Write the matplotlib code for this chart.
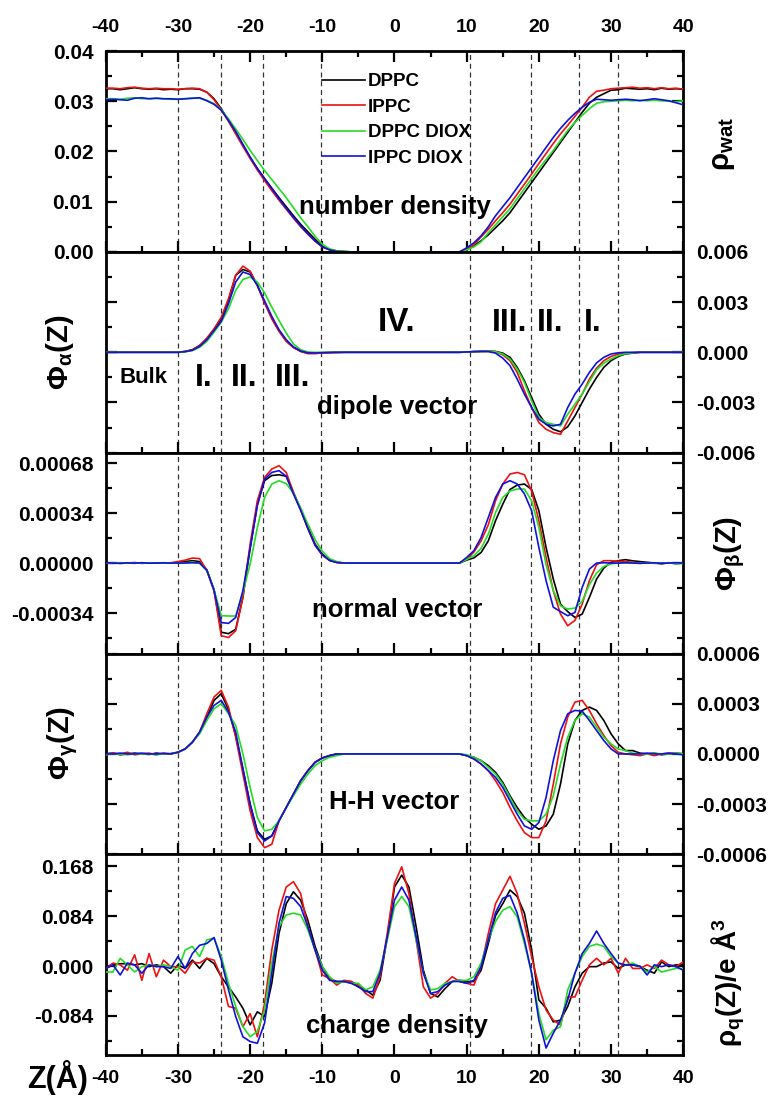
import numpy as np
import matplotlib
matplotlib.use('Agg')
import matplotlib.pyplot as plt
from matplotlib.ticker import MultipleLocator, FixedLocator, FormatStrFormatter

plt.rcParams['font.family'] = ['Liberation Sans', 'DejaVu Sans']
plt.rcParams['font.weight'] = 'bold'
plt.rcParams['axes.unicode_minus'] = False
plt.rcParams['mathtext.fontset'] = 'custom'
plt.rcParams['mathtext.rm'] = 'Liberation Sans:bold'
plt.rcParams['mathtext.it'] = 'Liberation Sans:bold'
plt.rcParams['mathtext.bf'] = 'Liberation Sans:bold'

# membrane normal coordinate, 1 A steps
z = np.arange(-40, 41)

labels = ['DPPC', 'IPPC', 'DPPC DIOX', 'IPPC DIOX']
colors = ['black', '#ee1111', '#22dd22', '#1111dd']
zone_edges = [-30, -24, -18.2, -10.2, 10.4, 18.9, 25.6, 30.9]

# water number density
rho_dppc = [0.0325, 0.0325, 0.0323, 0.0325, 0.0327, 0.0325, 0.0324, 0.0325, 0.0323, 0.0324, 0.0323, 0.0325, 0.0325, 0.0324,
            0.0318, 0.0305, 0.0285, 0.0262, 0.0238, 0.0213, 0.0188, 0.0166, 0.0146, 0.0127, 0.0108, 0.0090, 0.0072, 0.0055,
            0.0040, 0.0025, 0.0012, 0.0005, 0.0002, 0.0001, 0.0,
            0, 0, 0, 0, 0, 0, 0, 0, 0, 0, 0, 0, 0, 0, 0,
            0.0005, 0.0012, 0.0022, 0.0034, 0.0048, 0.0062, 0.0078, 0.0098, 0.0118, 0.0138, 0.0158, 0.0178, 0.0198, 0.0218,
            0.0238, 0.0258, 0.0278, 0.0296, 0.0308, 0.0315, 0.0322, 0.0323, 0.0326, 0.0325, 0.0324, 0.0325, 0.0323, 0.0326,
            0.0324, 0.0325, 0.0324]
rho_ippc = [0.0326, 0.0326, 0.0325, 0.0327, 0.0328, 0.0326, 0.0325, 0.0326, 0.0325, 0.0325, 0.0324, 0.0325, 0.0326, 0.0325,
            0.0318, 0.0303, 0.0283, 0.0260, 0.0235, 0.0210, 0.0186, 0.0163, 0.0142, 0.0122, 0.0103, 0.0085, 0.0067, 0.0050,
            0.0035, 0.0021, 0.0010, 0.0004, 0.0001, 0.0, 0.0,
            0, 0, 0, 0, 0, 0, 0, 0, 0, 0, 0, 0, 0, 0, 0,
            0.0006, 0.0014, 0.0030, 0.0045, 0.0062, 0.0078, 0.0095, 0.0115, 0.0135, 0.0155, 0.0176, 0.0196, 0.0216, 0.0235,
            0.0252, 0.0270, 0.0288, 0.0308, 0.0320, 0.0322, 0.0325, 0.0326, 0.0327, 0.0328, 0.0326, 0.0327, 0.0325, 0.0327,
            0.0325, 0.0326, 0.0324]
rho_dppc_diox = [0.0305, 0.0305, 0.0304, 0.0306, 0.0307, 0.0305, 0.0305, 0.0306, 0.0305, 0.0304, 0.0304, 0.0305, 0.0306, 0.0306,
                 0.0302, 0.0295, 0.0283, 0.0265, 0.0245, 0.0224, 0.0202, 0.0182, 0.0162, 0.0144, 0.0126, 0.0108, 0.0088, 0.0068,
                 0.0050, 0.0031, 0.0015, 0.0006, 0.0002, 0.0001, 0.0,
                 0, 0, 0, 0, 0, 0, 0, 0, 0, 0, 0, 0, 0, 0, 0,
                 0.0004, 0.0010, 0.0020, 0.0038, 0.0054, 0.0070, 0.0086, 0.0106, 0.0126, 0.0146, 0.0166, 0.0184, 0.0202, 0.0222,
                 0.0242, 0.0258, 0.0272, 0.0285, 0.0296, 0.0299, 0.0300, 0.0301, 0.0302, 0.0301, 0.0302, 0.0301, 0.0302, 0.0301,
                 0.0300, 0.0299, 0.0301]
rho_ippc_diox = [0.0303, 0.0304, 0.0303, 0.0302, 0.0306, 0.0307, 0.0305, 0.0306, 0.0305, 0.0305, 0.0304, 0.0305, 0.0306, 0.0307,
                 0.0301, 0.0294, 0.0282, 0.0262, 0.0240, 0.0214, 0.0189, 0.0166, 0.0146, 0.0126, 0.0106, 0.0087, 0.0069, 0.0052,
                 0.0036, 0.0022, 0.0010, 0.0004, 0.0001, 0.0, 0.0,
                 0, 0, 0, 0, 0, 0, 0, 0, 0, 0, 0, 0, 0, 0, 0,
                 0.0008, 0.0018, 0.0032, 0.0050, 0.0072, 0.0090, 0.0108, 0.0128, 0.0148, 0.0168, 0.0188, 0.0208, 0.0228, 0.0246,
                 0.0262, 0.0276, 0.0288, 0.0298, 0.0304, 0.0303, 0.0302, 0.0303, 0.0304, 0.0303, 0.0301, 0.0303, 0.0305, 0.0303,
                 0.0301, 0.0297, 0.0293]

# dipole vector orientation, in units of 1e-3
phia_dppc = [0, 0, 0, 0, 0, 0, 0, 0, 0, 0,
             0.0, 0.05, 0.15, 0.4, 0.8, 1.35, 2.0, 3.1, 4.6, 4.95, 4.8, 4.0, 3.0, 2.05, 1.3, 0.7, 0.3, 0.06, -0.05, -0.05, -0.03,
             -0.02, -0.01, 0, 0, 0, 0, 0, 0, 0, 0, 0, 0, 0, 0, 0, 0, 0, 0, 0, 0.02, 0.04,
             0.06, 0.07, 0.05, -0.05, -0.3, -0.9, -1.7, -2.7, -3.7, -4.3, -4.6, -4.75, -4.45, -3.8, -3.0, -2.2, -1.5, -0.9,
             -0.5, -0.25, -0.1, -0.05, 0, 0, 0, 0, 0, 0, 0]
phia_ippc = [0, 0, 0, 0, 0, 0, 0, 0, 0, 0,
             0.0, 0.05, 0.15, 0.4, 0.85, 1.4, 2.1, 3.2, 4.6, 5.15, 4.85, 4.0, 2.95, 2.0, 1.25, 0.65, 0.28, 0.05, -0.08, -0.08, -0.04,
             -0.02, -0.01, 0, 0, 0, 0, 0, 0, 0, 0, 0, 0, 0, 0, 0, 0, 0, 0, 0, 0.02, 0.04,
             0.05, 0.06, 0.03, -0.15, -0.5, -1.2, -2.3, -3.3, -4.2, -4.6, -4.8, -4.9, -4.1, -3.3, -2.5, -1.6, -0.95, -0.5,
             -0.25, -0.1, -0.05, -0.02, 0, 0, 0, 0, 0, 0, 0]
phia_dppc_diox = [0, 0, 0, 0, 0, 0, 0, 0, 0, 0,
                  0.0, 0.03, 0.1, 0.3, 0.65, 1.2, 1.8, 2.6, 3.7, 4.35, 4.5, 4.2, 3.55, 2.7, 1.9, 1.15, 0.5, 0.15, 0.02, 0.0, 0.0,
                  0, 0, 0, 0, 0, 0, 0, 0, 0, 0, 0, 0, 0, 0, 0, 0, 0, 0, 0, 0.02, 0.04,
                  0.05, 0.06, 0.03, -0.1, -0.4, -1.0, -1.8, -2.9, -3.9, -4.2, -4.3, -4.4, -3.7, -3.1, -2.5, -1.75, -1.05, -0.65,
                  -0.4, -0.2, -0.08, -0.03, 0, 0, 0, 0, 0, 0, 0]
phia_ippc_diox = [0, 0, 0, 0, 0, 0, 0, 0, 0, 0,
                  0.0, 0.04, 0.12, 0.35, 0.75, 1.3, 1.85, 2.9, 4.2, 4.8, 4.65, 4.0, 3.07, 2.15, 1.35, 0.75, 0.32, 0.08, -0.03, -0.04, -0.02,
                  -0.01, 0, 0, 0, 0, 0, 0, 0, 0, 0, 0, 0, 0, 0, 0, 0, 0, 0, 0, 0.02, 0.04,
                  0.05, 0.04, -0.05, -0.35, -0.8, -1.6, -2.5, -3.3, -4.0, -4.3, -4.4, -4.3, -3.3, -2.5, -1.9, -1.2, -0.63, -0.3,
                  -0.1, -0.03, 0, 0, 0, 0, 0, 0, 0, 0, 0]

# normal vector orientation, in units of 1e-4
phib_dppc = [0, 0.02, -0.02, 0.0, 0.03, -0.02, 0.01, 0.0, 0.02, 0.0,
             0.05, 0.1, 0.16, 0.1, -0.45, -1.8, -4.7, -4.8, -4.5, -2.3, 1.0, 4.0, 5.6, 5.95, 6.0, 5.9, 4.8, 3.67, 2.42, 1.29,
             0.61, 0.2, 0.05, 0.0,
             0, 0, 0, 0, 0, 0, 0, 0, 0, 0, 0, 0, 0, 0, 0, 0,
             0.2, 0.35, 0.72, 1.51, 2.88, 4.0, 5.0, 5.3, 5.37, 5.0, 3.56, 1.06, -1.09, -2.8, -3.3, -3.7, -3.47, -2.34, -1.09,
             -0.34, 0.05, 0.16, 0.23, 0.15, 0.1, 0.05, 0.0, -0.05, 0.02, -0.03, 0.0]
phib_ippc = [0, -0.02, 0.02, 0.0, -0.02, 0.02, 0.0, 0.01, 0.0, 0.02,
             0.1, 0.2, 0.34, 0.3, -0.5, -1.9, -4.94, -5.06, -4.6, -2.34, 1.29, 4.24, 5.82, 6.39, 6.62, 6.16, 4.8, 3.6, 2.35, 1.22,
             0.55, 0.18, 0.04, 0.0,
             0, 0, 0, 0, 0, 0, 0, 0, 0, 0, 0, 0, 0, 0, 0, 0,
             0.25, 0.75, 1.51, 2.6, 4.24, 5.37, 6.05, 6.16, 6.0, 4.9, 2.88, 0.38, -1.88, -3.47, -4.26, -3.9, -2.79, -1.2, -0.11,
             0.16, 0.16, 0.12, 0.1, 0.05, 0.0, 0.03, -0.02, 0.0, 0.02, -0.03, 0.0]
phib_dppc_diox = [0, 0.01, 0, -0.01, 0.02, 0, 0.01, -0.01, 0, 0.01,
                  0.0, 0.02, 0.05, 0.0, -0.5, -1.8, -3.58, -3.6, -3.6, -2.0, -0.07, 2.42, 4.46, 5.37, 5.6, 5.4, 4.75, 3.75, 2.65, 1.6,
                  0.8, 0.3, 0.1, 0.0,
                  0, 0, 0, 0, 0, 0, 0, 0, 0, 0, 0, 0, 0, 0, 0, 0,
                  0.25, 0.5, 1.0, 1.96, 3.43, 4.46, 4.9, 5.03, 5.03, 4.24, 2.42, -0.11, -1.88, -2.9, -3.13, -3.06, -2.6, -1.47, -0.68,
                  -0.23, -0.05, 0.0, 0.02, 0.0, -0.02, 0.02, 0.0, -0.02, 0.02, -0.05, -0.03]
phib_ippc_diox = [0.02, 0.0, -0.02, 0.01, 0.0, 0.02, -0.01, 0.0, 0.01, 0.0,
                  0.0, 0.0, 0.02, 0.0, -0.5, -1.85, -4.04, -4.1, -3.7, -1.88, 1.0, 3.9, 5.7, 6.16, 6.28, 5.9, 4.7, 3.6, 2.35, 1.2,
                  0.55, 0.18, 0.04, 0.0,
                  0, 0, 0, 0, 0, 0, 0, 0, 0, 0, 0, 0, 0, 0, 0, 0,
                  0.38, 0.84, 1.74, 3.1, 4.46, 5.37, 5.6, 5.37, 4.7, 3.56, 1.06, -1.2, -3.0, -3.3, -3.58, -3.36, -1.66, -0.41, 0.0,
                  0.02, 0.0, 0.0, 0.02, 0.0, -0.02, 0.0, 0.02, -0.02, 0.0, 0.02, 0.0]

# H-H vector orientation, in units of 1e-4
phig_dppc = [0.0, 0.05, -0.05, 0.0, 0.05, 0.0, -0.03, 0.05, 0.0, 0.02,
             0.1, 0.3, 0.7, 1.3, 2.2, 3.2, 3.6, 2.65, 1.1, -0.9, -3.0, -4.6, -5.1, -4.9, -4.0, -3.2, -2.4, -1.6, -1.0, -0.5,
             -0.24, -0.1, 0.0, 0.0,
             0, 0, 0, 0, 0, 0, 0, 0, 0, 0, 0, 0, 0, 0, 0, 0,
             -0.1, -0.2, -0.4, -0.7, -1.1, -1.7, -2.5, -3.2, -3.8, -4.2, -4.5, -4.3, -3.6, -1.8, 0.6, 2.0, 2.6, 2.8, 2.6, 2.0,
             1.2, 0.6, 0.2, 0.2, 0.05, 0.0, 0.05, -0.05, 0.0, 0.05, 0.0]
phig_ippc = [0.0, 0.05, 0.0, 0.1, -0.05, 0.0, 0.05, -0.05, 0.05, 0.0,
             0.1, 0.3, 0.7, 1.3, 2.4, 3.4, 3.8, 2.8, 1.0, -1.2, -3.4, -5.0, -5.6, -5.4, -4.0, -3.2, -2.4, -1.6, -1.0, -0.5,
             -0.24, -0.1, 0.0, 0.0,
             0, 0, 0, 0, 0, 0, 0, 0, 0, 0, 0, 0, 0, 0, 0, 0,
             -0.1, -0.3, -0.6, -1.0, -1.6, -2.3, -3.2, -4.0, -4.7, -5.0, -5.0, -4.0, -1.8, 0.6, 2.2, 3.1, 3.2, 2.6, 1.8, 1.1,
             0.5, 0.1, 0.0, -0.05, -0.1, 0.0, -0.1, 0.0, 0.05, 0.0, 0.0]
phig_dppc_diox = [-0.05, 0.0, 0.0, -0.05, 0.0, 0.0, 0.0, -0.05, 0.0, 0.0,
                  0.1, 0.3, 0.7, 1.2, 2.0, 2.7, 3.0, 2.4, 1.7, 0.0, -2.0, -3.8, -4.6, -4.5, -4.0, -3.2, -2.5, -1.8, -1.2, -0.7,
                  -0.4, -0.2, -0.1, 0.0,
                  0, 0, 0, 0, 0, 0, 0, 0, 0, 0, 0, 0, 0, 0, 0, 0,
                  -0.05, -0.2, -0.4, -0.8, -1.2, -1.8, -2.6, -3.4, -3.9, -4.0, -4.0, -3.6, -2.5, -0.6, 1.0, 2.0, 2.4, 2.2, 1.6, 1.0,
                  0.6, 0.3, 0.2, 0.05, 0.0, 0.0, 0.05, 0.0, 0.0, 0.05, 0.0]
phig_ippc_diox = [0.0, 0.0, 0.05, 0.0, 0.0, 0.05, 0.0, 0.0, 0.03, 0.0,
                  0.1, 0.3, 0.7, 1.3, 2.2, 2.9, 3.2, 2.5, 1.3, -0.9, -3.0, -4.7, -5.2, -4.9, -4.0, -3.2, -2.4, -1.6, -1.0, -0.5,
                  -0.24, -0.1, 0.0, 0.0,
                  0, 0, 0, 0, 0, 0, 0, 0, 0, 0, 0, 0, 0, 0, 0, 0,
                  -0.1, -0.3, -0.6, -1.0, -1.4, -2.0, -2.8, -3.6, -4.3, -4.5, -4.1, -2.6, -0.4, 1.4, 2.4, 2.6, 2.56, 2.0, 1.4, 0.8,
                  0.3, 0.0, 0.0, 0.0, 0.0, 0.05, 0.0, 0.0, 0.05, 0.0, -0.05]

# charge density
q_dppc = [-0.004, 0.002, 0.004, 0.004, 0.002, 0.004, -0.001, 0.002, -0.001, -0.012, 0.002, -0.004, 0.010, -0.004,
          0.013, 0.004, -0.018, -0.035, -0.052, -0.071, -0.099, -0.077, -0.085, -0.029, 0.055, 0.105, 0.125, 0.111,
          0.077, 0.033, -0.001, -0.021, -0.026, -0.026, -0.026, -0.035, -0.040, -0.049, -0.024, 0.049, 0.133, 0.153,
          0.133, 0.066, -0.007, -0.046, -0.052, -0.038, -0.026, -0.024, -0.026, -0.026, -0.007, 0.038,
          0.085, 0.105, 0.128, 0.117, 0.089, 0.027, -0.057, -0.071, -0.094, -0.091, -0.068, -0.035, -0.012, -0.001,
          -0.001, 0.005, 0.007, -0.004, 0.002, 0.002, -0.001, -0.007, -0.012, 0.007, -0.001, 0.002, 0.002]
q_ippc = [-0.004, 0.005, 0.002, -0.007, 0.019, -0.024, 0.021, -0.018, 0.010, -0.001, -0.001, -0.012, 0.007, 0.005,
          0.013, 0.010, -0.018, -0.068, -0.071, -0.102, -0.080, -0.119, -0.063, 0.027, 0.094, 0.133, 0.142, 0.122,
          0.066, 0.027, -0.015, -0.021, -0.032, -0.024, -0.026, -0.032, -0.046, -0.054, -0.018, 0.055, 0.139, 0.167,
          0.122, 0.044, -0.035, -0.054, -0.046, -0.029, -0.018, -0.026, -0.029, -0.032, -0.001, 0.055,
          0.105, 0.128, 0.151, 0.122, 0.072, 0.016, -0.035, -0.074, -0.091, -0.099, -0.052, -0.052, -0.024, 0.002,
          0.013, 0.002, 0.013, -0.012, 0.013, -0.004, -0.004, 0.002, -0.004, 0.010, 0.002, -0.001, 0.007]
q_dppc_diox = [-0.010, -0.010, 0.013, 0.002, -0.010, -0.001, 0.002, -0.001, 0.002, -0.001, -0.007, 0.027, 0.033, 0.016,
               0.044, 0.047, 0.016, -0.029, -0.068, -0.102, -0.119, -0.110, -0.074, 0.005, 0.066, 0.086, 0.089, 0.086,
               0.061, 0.027, -0.001, -0.018, -0.029, -0.026, -0.029, -0.029, -0.040, -0.035, -0.007, 0.044, 0.100, 0.117,
               0.100, 0.044, -0.012, -0.040, -0.038, -0.029, -0.026, -0.024, -0.024, -0.018, 0.005, 0.044,
               0.075, 0.094, 0.100, 0.083, 0.038, -0.012, -0.080, -0.124, -0.108, -0.102, -0.040, -0.012, 0.016, 0.033,
               0.037, 0.033, 0.016, 0.005, 0.002, 0.005, -0.001, -0.010, -0.001, -0.010, -0.007, -0.004, -0.004]
q_ippc_diox = [-0.004, 0.002, -0.015, 0.005, 0.002, -0.012, 0.002, -0.001, -0.001, -0.004, 0.016, -0.004, 0.021, 0.035,
               0.038, 0.048, 0.010, -0.040, -0.085, -0.119, -0.127, -0.130, -0.096, -0.012, 0.072, 0.117, 0.114, 0.100,
               0.066, 0.027, -0.007, -0.024, -0.026, -0.026, -0.029, -0.035, -0.043, -0.043, -0.012, 0.049, 0.111, 0.133,
               0.111, 0.049, -0.012, -0.046, -0.043, -0.032, -0.026, -0.026, -0.029, -0.024, -0.001, 0.044,
               0.090, 0.114, 0.119, 0.089, 0.044, -0.012, -0.091, -0.138, -0.113, -0.091, -0.057, -0.012, 0.021, 0.038,
               0.059, 0.038, 0.021, 0.005, 0.002, 0.002, 0.000, -0.015, 0.002, -0.001, 0.002, -0.001, -0.007]

panels = [
    ([rho_dppc, rho_ippc, rho_dppc_diox, rho_ippc_diox], 1.0),
    ([phia_dppc, phia_ippc, phia_dppc_diox, phia_ippc_diox], 1e-3),
    ([phib_dppc, phib_ippc, phib_dppc_diox, phib_ippc_diox], 1e-4),
    ([phig_dppc, phig_ippc, phig_dppc_diox, phig_ippc_diox], 1e-4),
    ([q_dppc, q_ippc, q_dppc_diox, q_ippc_diox], 1.0),
]

fig = plt.figure(figsize=(7.72, 10.98), dpi=100)
left, right, bottom, top = 0.137, 0.885, 0.039, 0.9535
h = (top - bottom) / 5
axes = [fig.add_axes([left, top - (i + 1) * h, right - left, h]) for i in range(5)]

for ax, (series, scale) in zip(axes, panels):
    for ys, c, lab in zip(series, colors, labels):
        ax.plot(z, np.array(ys) * scale, color=c, lw=1.2, label=lab, zorder=3)
    for xv in zone_edges:
        ax.axvline(xv, color='#333333', lw=0.9, ls=(0, (4, 3)), zorder=1)
    ax.set_xlim(-40, 40)
    ax.xaxis.set_major_locator(MultipleLocator(10))
    ax.xaxis.set_minor_locator(MultipleLocator(5))
    ax.tick_params(which='both', direction='in', width=1.6, left=True, right=True,
                   bottom=True, top=False, labelbottom=False, labelleft=False,
                   labelright=False, labelsize=15, pad=9)
    ax.tick_params(axis='x', labelsize=14)
    ax.tick_params(which='major', length=8)
    ax.tick_params(which='minor', length=4.5)
    for s in ax.spines.values():
        s.set_linewidth(2)

ax1, ax2, ax3, ax4, ax5 = axes

ax1.set_ylim(0, 0.04)
ax1.yaxis.set_major_locator(MultipleLocator(0.01))
ax1.yaxis.set_minor_locator(MultipleLocator(0.005))
ax1.yaxis.set_major_formatter(FormatStrFormatter('%.2f'))
ax1.tick_params(labelleft=True, top=True, labeltop=True, which='both')
ax1.tick_params(axis='x', pad=11)

ax2.set_ylim(-0.006, 0.006)
ax2.yaxis.set_major_locator(FixedLocator([-0.006, -0.003, 0.0, 0.003, 0.006]))
ax2.yaxis.set_minor_locator(MultipleLocator(0.0015))
ax2.yaxis.set_major_formatter(FormatStrFormatter('%.3f'))
ax2.tick_params(labelright=True)

ax3.set_ylim(-0.000615, 0.00075)
ax3.yaxis.set_major_locator(FixedLocator([-0.00034, 0.0, 0.00034, 0.00068]))
ax3.yaxis.set_minor_locator(FixedLocator([-0.00051, -0.00017, 0.00017, 0.00051]))
ax3.yaxis.set_major_formatter(FormatStrFormatter('%.5f'))
ax3.tick_params(labelleft=True)

ax4.set_ylim(-0.0006, 0.0006)
ax4.yaxis.set_major_locator(FixedLocator([-0.0006, -0.0003, 0.0, 0.0003, 0.0006]))
ax4.yaxis.set_minor_locator(MultipleLocator(0.00015))
ax4.yaxis.set_major_formatter(FormatStrFormatter('%.4f'))
ax4.tick_params(labelright=True)

ax5.set_ylim(-0.15, 0.188)
ax5.yaxis.set_major_locator(FixedLocator([-0.084, 0.0, 0.084, 0.168]))
ax5.yaxis.set_minor_locator(FixedLocator([-0.126, -0.042, 0.042, 0.126]))
ax5.yaxis.set_major_formatter(FormatStrFormatter('%.3f'))
ax5.tick_params(labelleft=True, labelbottom=True)
ax5.tick_params(axis='x', pad=11)

ax1.legend(loc='upper left', bbox_to_anchor=(0.375, 0.89), frameon=False,
           fontsize=13.5, handlelength=2.3, handletextpad=0.15, labelspacing=0.45,
           borderaxespad=0, borderpad=0)

# panel annotations
ax1.text(0, 0.0076, 'number density', fontsize=18.5, ha='center', va='baseline')
ax2.text(0.35, -0.00367, 'dipole vector', fontsize=18.5, ha='center', va='baseline')
ax2.text(0.35, 0.00128, 'IV.', fontsize=24, ha='center', va='baseline')
ax2.text(13.5, 0.00128, 'III.', fontsize=23, ha='left', va='baseline')
ax2.text(19.7, 0.00128, 'II.', fontsize=23, ha='left', va='baseline')
ax2.text(26.3, 0.00128, 'I.', fontsize=23, ha='left', va='baseline')
ax2.text(-38.1, -0.00186, 'Bulk', fontsize=16, ha='left', va='baseline')
ax2.text(-27.7, -0.002, 'I.', fontsize=23, ha='left', va='baseline')
ax2.text(-22.6, -0.002, 'II.', fontsize=23, ha='left', va='baseline')
ax2.text(-16.6, -0.002, 'III.', fontsize=23, ha='left', va='baseline')
ax3.text(0.35, -0.00037, 'normal vector', fontsize=18.5, ha='center', va='baseline')
ax4.text(-0.1, -0.00033, 'H-H vector', fontsize=18.5, ha='center', va='baseline')
ax5.text(0.3, -0.113, 'charge density', fontsize=18.5, ha='center', va='baseline')

# axis titles
ax1.text(1.069, 0.535, r'ρ$_{\mathbf{wat}}$', transform=ax1.transAxes, rotation=90,
         fontsize=21, ha='center', va='center')
ax2.text(-0.08, 0.5, r'Φ$_{\alpha}$(Z)', transform=ax2.transAxes, rotation=90,
         fontsize=21, ha='center', va='center')
ax3.text(1.08, 0.5, r'Φ$_{\beta}$(Z)', transform=ax3.transAxes, rotation=90,
         fontsize=21, ha='center', va='center')
ax4.text(-0.075, 0.557, r'Φ$_{\gamma}$(Z)', transform=ax4.transAxes, rotation=90,
         fontsize=21, ha='center', va='center')
ax5.text(1.078, 0.363, r'ρ$_{\mathbf{q}}$(Z)/e Å$^{\mathbf{3}}$', transform=ax5.transAxes,
         rotation=90, fontsize=20, ha='center', va='center')
fig.text(0.075, 0.003, 'Z(Å)', fontsize=22, ha='center', va='bottom')

fig.savefig('out.png', dpi=100)
